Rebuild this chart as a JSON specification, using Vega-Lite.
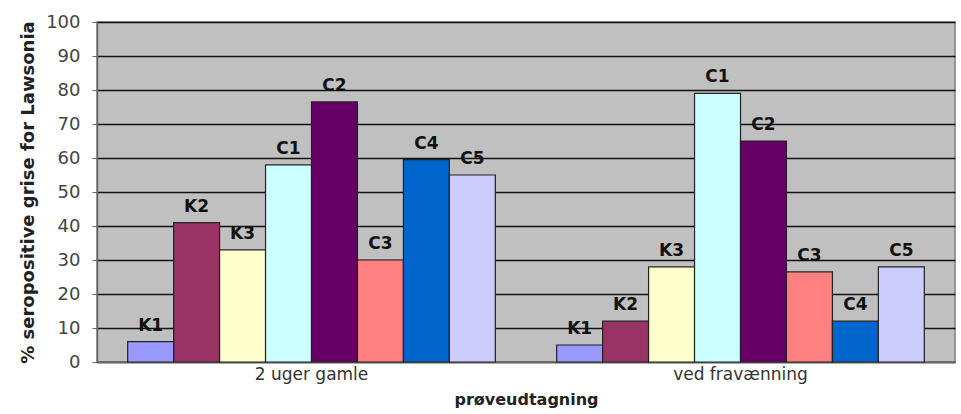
{
  "$schema": "https://vega.github.io/schema/vega-lite/v6.json",
  "width": 858,
  "height": 340,
  "autosize": {"type": "none"},
  "padding": {"left": 97, "top": 22, "right": 6, "bottom": 52},
  "background": "white",
  "config": {
    "font": "DejaVu Sans",
    "view": {"fill": "#C0C0C0", "stroke": "#808080", "strokeWidth": 1.5}
  },
  "data": {
    "values": [
      {"group": "2 uger gamle", "serie": "K1", "value": 6},
      {"group": "2 uger gamle", "serie": "K2", "value": 41},
      {"group": "2 uger gamle", "serie": "K3", "value": 33},
      {"group": "2 uger gamle", "serie": "C1", "value": 58},
      {"group": "2 uger gamle", "serie": "C2", "value": 76.5},
      {"group": "2 uger gamle", "serie": "C3", "value": 30},
      {"group": "2 uger gamle", "serie": "C4", "value": 59.5},
      {"group": "2 uger gamle", "serie": "C5", "value": 55},
      {"group": "ved fravænning", "serie": "K1", "value": 5},
      {"group": "ved fravænning", "serie": "K2", "value": 12},
      {"group": "ved fravænning", "serie": "K3", "value": 28},
      {"group": "ved fravænning", "serie": "C1", "value": 79},
      {"group": "ved fravænning", "serie": "C2", "value": 65},
      {"group": "ved fravænning", "serie": "C3", "value": 26.5},
      {"group": "ved fravænning", "serie": "C4", "value": 12},
      {"group": "ved fravænning", "serie": "C5", "value": 28}
    ]
  },
  "encoding": {
    "x": {
      "field": "group",
      "type": "nominal",
      "scale": {"paddingInner": 0.143, "paddingOuter": 0.0715},
      "axis": {
        "title": "prøveudtagning",
        "titleFontSize": 16,
        "titleFontWeight": "bold",
        "titleColor": "#222",
        "titlePadding": 9,
        "labelAngle": 0,
        "labelFontSize": 17,
        "labelColor": "#333",
        "labelPadding": 4,
        "ticks": false,
        "domainColor": "#666",
        "domainWidth": 1.5
      }
    },
    "xOffset": {
      "field": "serie",
      "type": "nominal",
      "sort": ["K1", "K2", "K3", "C1", "C2", "C3", "C4", "C5"],
      "scale": {"paddingInner": 0, "paddingOuter": 0}
    },
    "y": {
      "field": "value",
      "type": "quantitative",
      "scale": {"domain": [0, 100]},
      "axis": {
        "title": "% seropositive grise for Lawsonia",
        "titleFontSize": 18,
        "titleFontWeight": "bold",
        "titleColor": "#222",
        "titlePadding": 8,
        "values": [0, 10, 20, 30, 40, 50, 60, 70, 80, 90, 100],
        "labelFontSize": 18,
        "labelColor": "#444",
        "labelPadding": 12,
        "tickSize": 5,
        "tickColor": "#666",
        "grid": true,
        "gridColor": "#111",
        "gridWidth": 1.5,
        "domainColor": "#666",
        "domainWidth": 1.5
      }
    }
  },
  "layer": [
    {
      "mark": {"type": "bar", "stroke": "#222", "strokeWidth": 1.2},
      "encoding": {
        "color": {
          "field": "serie",
          "type": "nominal",
          "scale": {
            "domain": ["K1", "K2", "K3", "C1", "C2", "C3", "C4", "C5"],
            "range": ["#9999FF", "#993366", "#FFFFCC", "#CCFFFF", "#660066", "#FF8080", "#0066CC", "#CCCCFF"]
          },
          "legend": null
        }
      }
    },
    {
      "mark": {"type": "text", "fontSize": 17, "fontWeight": "bold", "color": "#111", "dy": -7, "baseline": "bottom"},
      "encoding": {
        "text": {"field": "serie"}
      }
    }
  ]
}
